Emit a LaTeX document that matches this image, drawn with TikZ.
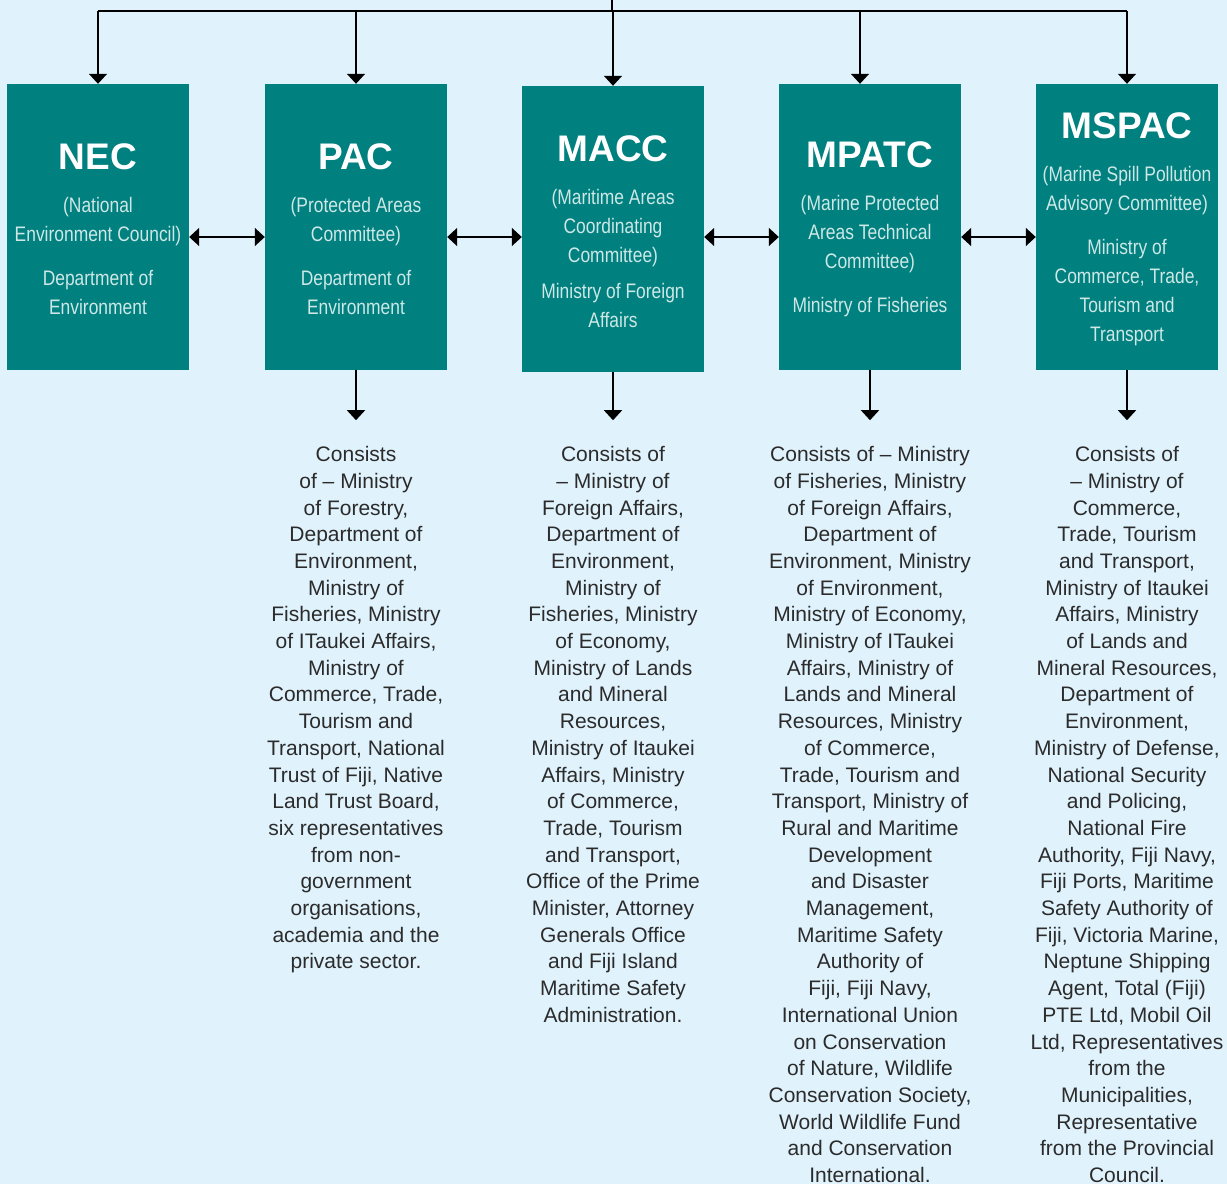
\documentclass[tikz,border=0pt]{standalone}
\usepackage{fontspec}
\setmainfont{Liberation Sans}
\newfontfamily\condfont[FakeStretch=0.83]{Liberation Sans}
\usetikzlibrary{arrows.meta,positioning}
\definecolor{bgblue}{HTML}{E0F2FC}
\definecolor{boxteal}{HTML}{00807F}
\definecolor{subtext}{HTML}{CDE8E6}
\definecolor{listtext}{HTML}{2B2B2B}
\newcommand\boxtitle[1]{{\rmfamily\bfseries\fontsize{37}{40}\selectfont\color{white}\rule{0pt}{30.5pt}#1}}

\begin{document}
\begin{tikzpicture}[x=1pt,y=-1pt,
  committee/.style={fill=boxteal,minimum width=182pt,minimum height=286pt,inner sep=0pt,
    align=center,text=subtext,font=\condfont\fontsize{21}{29}\selectfont},
  members/.style={align=center,inner xsep=0pt,inner ysep=26pt,text=listtext,
    font=\fontsize{21}{26.7}\selectfont},
  arr/.style={-{Triangle[width=18pt,length=10pt]},line width=1.5pt},
  dbl/.style={{Triangle[width=18pt,length=10pt]}-{Triangle[width=18pt,length=10pt]},line width=1.5pt}]
  \path[use as bounding box,fill=bgblue] (0,0) rectangle (1227,1184);

  \node[committee] (nec) at (98,227) {\boxtitle{NEC}\\[14pt]
    (National\\ Environment Council)\\[15pt]
    Department of\\ Environment};
  \node[committee] (pac) at (356,227) {\boxtitle{PAC}\\[14pt]
    (Protected Areas\\ Committee)\\[15pt]
    Department of\\ Environment};
  \node[committee] (macc) at (613,229) {\boxtitle{MACC}\\[14pt]
    (Maritime Areas\\ Coordinating\\ Committee)\\[7pt]
    Ministry of Foreign\\ Affairs};
  \node[committee] (mpatc) at (870,227) {\boxtitle{MPATC}\\[14pt]
    (Marine Protected\\ Areas Technical\\ Committee)\\[15pt]
    Ministry of Fisheries};
  \node[committee] (mspac) at (1127,227) {\boxtitle{MSPAC}\\[14pt]
    (Marine Spill Pollution\\ Advisory Committee)\\[15pt]
    Ministry of\\ Commerce, Trade,\\ Tourism and\\ Transport};

  \node[members,below=50pt of pac] (pac-list) {Consists\\ of -- Ministry\\ of Forestry,\\
    Department of\\ Environment,\\ Ministry of\\ Fisheries, Ministry\\ of ITaukei Affairs,\\
    Ministry of\\ Commerce, Trade,\\ Tourism and\\ Transport, National\\ Trust of Fiji, Native\\
    Land Trust Board,\\ six representatives\\ from non-\\ government\\ organisations,\\
    academia and the\\ private sector.};
  \node[members,below=48pt of macc] (macc-list) {Consists of\\ -- Ministry of\\ Foreign Affairs,\\
    Department of\\ Environment,\\ Ministry of\\ Fisheries, Ministry\\ of Economy,\\
    Ministry of Lands\\ and Mineral\\ Resources,\\ Ministry of Itaukei\\ Affairs, Ministry\\
    of Commerce,\\ Trade, Tourism\\ and Transport,\\ Office of the Prime\\ Minister, Attorney\\
    Generals Office\\ and Fiji Island\\ Maritime Safety\\ Administration.};
  \node[members,below=50pt of mpatc] (mpatc-list) {Consists of -- Ministry\\ of Fisheries, Ministry\\
    of Foreign Affairs,\\ Department of\\ Environment, Ministry\\ of Environment,\\
    Ministry of Economy,\\ Ministry of ITaukei\\ Affairs, Ministry of\\ Lands and Mineral\\
    Resources, Ministry\\ of Commerce,\\ Trade, Tourism and\\ Transport, Ministry of\\
    Rural and Maritime\\ Development\\ and Disaster\\ Management,\\ Maritime Safety\\
    Authority of\\ Fiji, Fiji Navy,\\ International Union\\ on Conservation\\
    of Nature, Wildlife\\ Conservation Society,\\ World Wildlife Fund\\ and Conservation\\
    International.};
  \node[members,below=50pt of mspac] (mspac-list) {Consists of\\ -- Ministry of\\ Commerce,\\
    Trade, Tourism\\ and Transport,\\ Ministry of Itaukei\\ Affairs, Ministry\\ of Lands and\\
    Mineral Resources,\\ Department of\\ Environment,\\ Ministry of Defense,\\ National Security\\
    and Policing,\\ National Fire\\ Authority, Fiji Navy,\\ Fiji Ports, Maritime\\
    Safety Authority of\\ Fiji, Victoria Marine,\\ Neptune Shipping\\ Agent, Total (Fiji)\\
    PTE Ltd, Mobil Oil\\ Ltd, Representatives\\ from the\\ Municipalities,\\ Representative\\
    from the Provincial\\ Council.};

  \coordinate (top) at (612,0);
  \coordinate (bus) at (612,11);
  \coordinate (mid) at (0,237);
  \coordinate (mpatc-in) at ([xshift=-10pt]mpatc.north);
  \draw[line width=1.5pt] (top) -- (bus);
  \draw[line width=1.5pt] (nec.north |- bus) -- (mspac.north |- bus);
  \foreach \n in {nec,pac,macc,mpatc-in,mspac}
    \draw[arr] (\n.north |- bus) -- (\n.north);
  \foreach \a/\b in {nec/pac,pac/macc,macc/mpatc,mpatc/mspac}
    \draw[dbl] (\a.east |- mid) -- (\b.west |- mid);
  \foreach \n in {pac,macc,mpatc,mspac}
    \draw[arr] (\n.south) -- (\n-list.north);
\end{tikzpicture}
\end{document}
